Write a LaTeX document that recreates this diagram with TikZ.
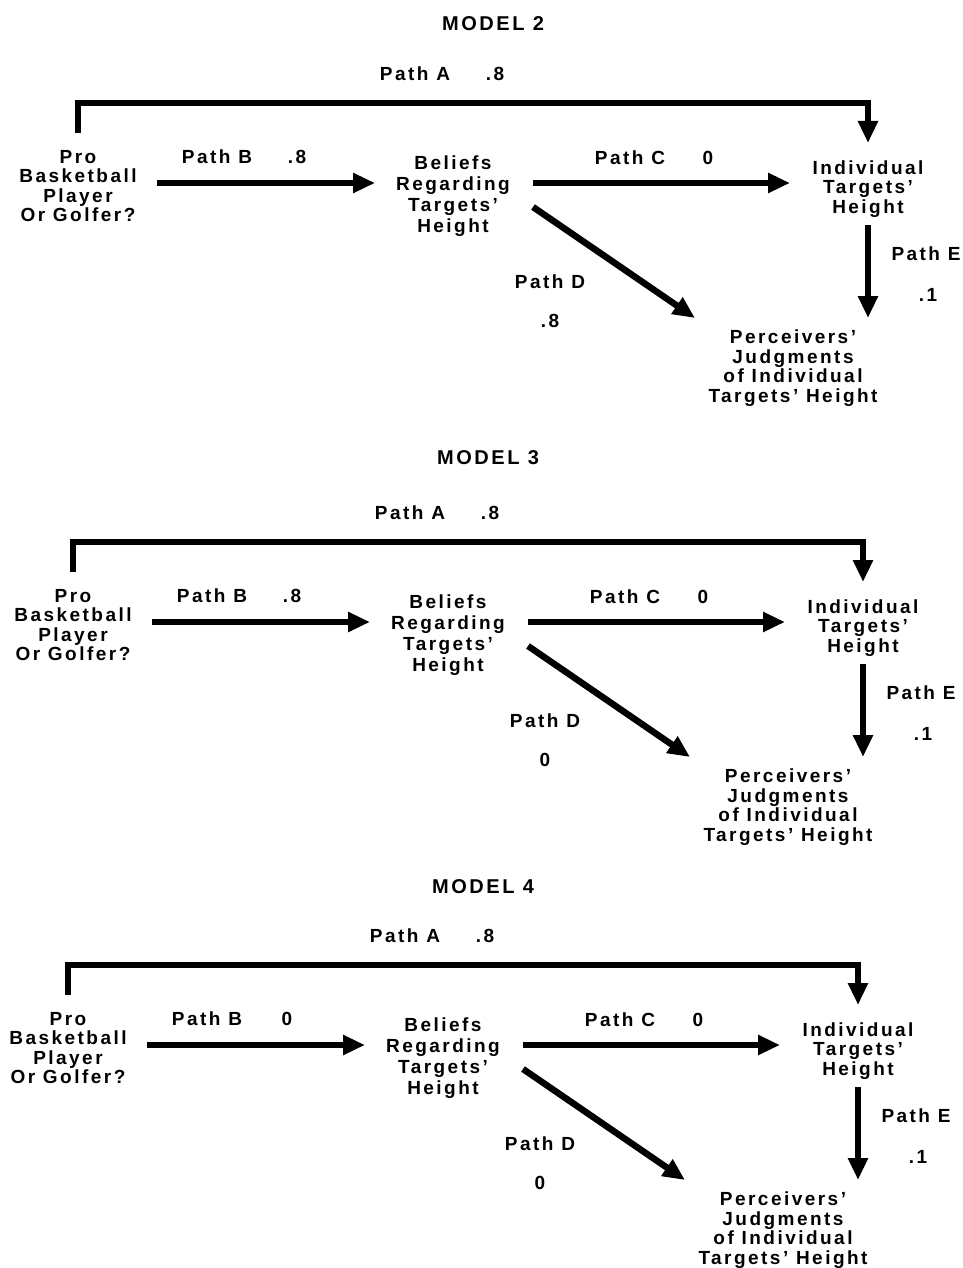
\documentclass[tikz,border=0pt]{standalone}
\usepackage{fontspec}
\setmainfont{Liberation Sans}[LetterSpace=13]
\usetikzlibrary{arrows.meta}
\begin{document}
\begin{tikzpicture}[x=1pt,y=-1pt,
  txt/.style={font=\fontsize{19}{19.5}\selectfont\bfseries, inner sep=0pt, align=center},
  txtb/.style={txt, font=\fontsize{19}{21}\selectfont\bfseries},
  ttl/.style={txt, font=\fontsize{20}{22}\selectfont\bfseries},
  arr/.style={line width=6.5pt, -{Triangle[length=22pt,width=19pt]}, line join=miter},
]
\fill[white] (0,0) rectangle (963,1268);
\useasboundingbox (0,0) rectangle (963,1268);
\foreach \m/\dx/\dy/\ty/\vb/\vd in {2/0/0/24/.8/.8, 3/-5/439/19/.8/0, 4/-10/862/25/0/0}{
 \begin{scope}[shift={(\dx,\dy)}]
  \node[ttl] (title\m) at (493,\ty) {MODEL \m};
  \node[txt] (la\m) at (415,74) {Path A};
  \node[txt] (lav\m) at (495,74) {.8};
  \node[txt] (lb\m) at (217,157) {Path B};
  \node[txt] (lbv\m) at (297,157) {\vb};
  \node[txt] (lc\m) at (630,158) {Path C};
  \node[txt] (lcv\m) at (708,158) {0};
  \node[txt] (ld\m) at (550,282) {Path D};
  \node[txt] (ldv\m) at (550,321) {\vd};
  \node[txt] (le\m) at (926,254) {Path E};
  \node[txt] (lev\m) at (928,295) {.1};
  \node[txt] (pro\m) at (78,186) {Pro\\Basketball\\Player\\Or Golfer?};
  \node[txtb] (bel\m) at (453,196) {Beliefs\\Regarding\\Targets'\\Height};
  \node[txt] (ind\m) at (868,189) {Individual\\Targets'\\Height};
  \node[txt] (per\m) at (793,368) {Perceivers'\\Judgments\\of Individual\\Targets' Height};
  \coordinate (ra\m) at (0,103);
  \coordinate (rb\m) at (0,183);
  \draw[arr] ([yshift=53pt]pro\m.center) |- (ra\m -| ind\m.center) -- ([yshift=46pt]ind\m.center);
  \draw[arr, shorten <=79pt, shorten >=78pt] (pro\m.center |- rb\m) -- (bel\m.center |- rb\m);
  \draw[arr, shorten <=80pt, shorten >=78pt] (bel\m.center |- rb\m) -- (ind\m.center |- rb\m);
  \draw[arr, shorten <=36pt, shorten >=50pt] (ind\m.center) -- (ind\m.center |- per\m.center);
  \draw[arr] ([shift={(80,11)}]bel\m.center) -- ([shift={(-98,-50)}]per\m.center);
 \end{scope}
}
\end{tikzpicture}
\end{document}
